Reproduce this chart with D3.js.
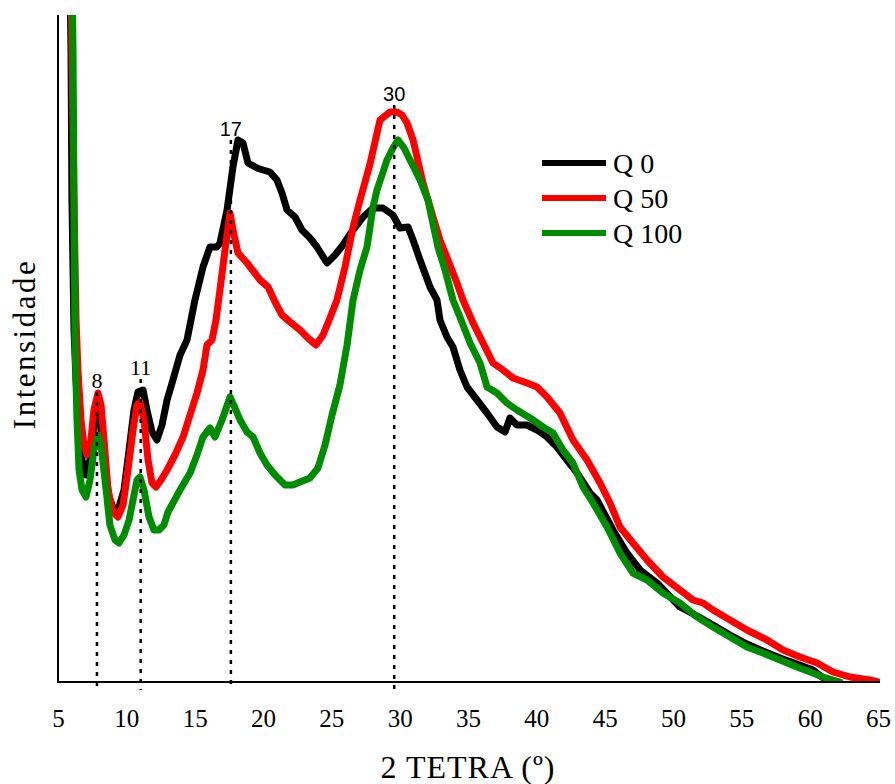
<!DOCTYPE html>
<html>
<head>
<meta charset="utf-8">
<script src="https://cdn.jsdelivr.net/npm/d3@7/dist/d3.min.js"></script>
<style>
  html, body { margin: 0; padding: 0; background: #fff; }
  svg { display: block; }
</style>
</head>
<body>
<svg id="chart" width="895" height="784"></svg>
<script>
// ---------- DATA ----------
const seriesNames = ["Q 0", "Q 50", "Q 100"];
const seriesColors = ["#000000", "#ff0000", "#008c00"];

// 2-theta (degrees) and intensity (arbitrary units) for Q 0
const q0Theta = [5.80,5.95,6.02,6.17,6.32,6.54,6.76,7.05,7.34,7.63,7.85,8.07,8.37,8.73,9.10,9.46,9.83,10.20,10.56,10.85,11.22,11.51,11.88,12.24,12.61,12.98,13.41,13.93,14.44,15.02,15.61,16.12,16.63,16.85,17.37,17.80,18.17,18.54,18.90,19.56,20.00,20.51,21.02,21.39,21.76,22.34,22.85,23.44,23.95,24.68,25.27,25.85,26.58,27.32,28.05,28.78,29.51,30.02,30.61,30.98,31.49,32.22,32.73,32.95,33.46,33.90,34.41,34.93,35.66,36.39,37.12,37.71,38.07,38.58,39.32,40.05,40.78,41.51,42.24,42.98,43.93,44.44,45.61,46.63,47.59,48.83,50.51,51.76,52.93,54.17,55.41,56.58,57.83,59.07,60.24,61.19];
const q0Int   = [782,632,482,352,302,252,222,207,222,257,277,262,222,185,172,175,192,232,272,290,292,272,250,242,257,282,302,327,342,382,415,435,435,439,472,515,542,539,519,514,512,510,502,489,472,465,452,444,435,419,427,437,452,465,474,474,467,454,455,442,422,395,382,362,345,335,312,295,282,269,255,250,264,257,257,252,245,235,222,209,189,182,152,129,112,99,75,66,57,47,38,31,24,18,12,2];

// Q 50
const q50Theta = [5.88,6.02,6.17,6.32,6.46,6.68,6.90,7.12,7.41,7.63,7.93,8.15,8.37,8.66,9.02,9.39,9.76,10.12,10.49,10.78,11.00,11.29,11.59,11.88,12.17,12.54,12.98,13.56,14.15,14.66,15.17,15.61,15.90,16.27,16.56,16.85,17.22,17.59,17.88,18.17,18.83,19.34,19.78,20.37,20.88,21.39,21.98,22.71,23.29,23.88,24.39,24.90,25.41,26.00,26.59,27.10,27.83,28.56,29.29,29.80,30.17,30.54,30.98,31.71,32.44,32.95,33.68,34.19,34.63,35.37,36.10,36.83,37.56,38.29,39.32,40.05,40.78,41.73,42.68,43.71,44.66,45.39,46.12,47.07,48.10,49.27,50.51,51.46,52.20,52.93,54.17,55.41,56.88,58.05,59.29,60.54,61.71,62.95,64.41,65.00];
const q50Int   = [782,632,482,362,312,262,237,227,242,272,289,277,242,192,170,165,177,212,252,277,280,262,222,199,195,202,212,227,245,267,289,312,337,342,362,392,432,469,447,429,419,410,402,395,380,367,360,352,344,337,347,364,382,415,455,482,518,562,570,570,567,559,542,499,465,442,417,399,382,359,339,319,312,304,299,295,285,269,242,222,199,179,155,139,122,105,92,82,79,72,62,52,42,32,25,19,10,5,2,0];

// Q 100
const q100Theta = [5.95,6.10,6.17,6.24,6.39,6.54,6.76,7.05,7.34,7.63,7.93,8.15,8.44,8.80,9.17,9.46,9.83,10.20,10.56,10.78,11.00,11.29,11.66,12.02,12.39,12.75,13.05,13.41,13.93,14.66,15.17,15.61,16.12,16.49,17.00,17.59,17.95,18.32,18.83,19.27,19.78,20.29,20.88,21.61,22.19,22.71,23.44,24.02,24.54,25.05,25.63,26.15,26.59,27.10,27.61,28.05,28.34,28.71,29.07,29.51,29.88,30.32,30.76,31.49,32.07,32.80,33.32,33.90,34.41,35.15,35.88,36.39,37.12,37.85,38.58,39.54,40.49,41.22,41.95,42.68,43.41,44.15,45.17,46.12,47.07,48.10,49.27,50.51,51.76,52.93,54.17,55.41,56.58,57.83,59.07,60.24,60.97,61.71,62.22];
const q100Int   = [782,632,482,342,262,212,192,185,202,232,247,237,202,157,142,139,147,162,187,202,205,192,165,152,152,157,170,179,192,209,227,245,254,245,262,285,274,262,250,245,229,217,207,197,197,200,204,214,237,267,297,337,382,412,435,475,492,507,522,534,542,534,522,502,482,435,412,382,365,339,319,295,289,279,272,264,255,249,232,219,195,179,155,129,109,102,89,79,65,55,45,35,29,22,15,9,5,2,0];

// Peak markers
const peakTheta  = [7.85, 11.05, 17.65, 29.6];
const peakLabels = ["8", "11", "17", "30"];
const peakTop    = [290, 303, 542, 577];

const xTicks = [5,10,15,20,25,30,35,40,45,50,55,60,65];
const xTitle = "2 TETRA (º)";
const yTitle = "Intensidade";

// ---------- LAYOUT ----------
const svg = d3.select("#chart");
const margin = { left: 58, right: 15, top: 15, bottom: 102 };
const W = 895, H = 784;
const x = d3.scaleLinear().domain([5, 65]).range([margin.left, 878]);
const y = d3.scaleLinear().domain([0, 667]).range([H - margin.bottom, margin.top]);

svg.append("defs").append("clipPath").attr("id", "plotclip")
  .append("rect")
  .attr("x", margin.left).attr("y", margin.top)
  .attr("width", 880 - margin.left).attr("height", (H - margin.bottom) - margin.top);

const series = [
  { name: seriesNames[0], color: seriesColors[0], t: q0Theta, v: q0Int },
  { name: seriesNames[1], color: seriesColors[1], t: q50Theta, v: q50Int },
  { name: seriesNames[2], color: seriesColors[2], t: q100Theta, v: q100Int }
];

const line = d3.line().x(d => x(d[0])).y(d => y(d[1]));

const g = svg.append("g").attr("clip-path", "url(#plotclip)");
series.forEach(s => {
  g.append("path")
    .datum(s.t.map((t, i) => [t, s.v[i]]))
    .attr("d", line)
    .attr("fill", "none")
    .attr("stroke", s.color)
    .attr("stroke-width", 7)
    .attr("stroke-linejoin", "round")
    .attr("stroke-linecap", "round");
});

// Axes
const serif = "'Liberation Serif', 'Times New Roman', serif";
const xAxis = d3.axisBottom(x).tickValues(xTicks).tickSize(0).tickPadding(27).tickFormat(d3.format("d"));
const ax = svg.append("g").attr("transform", `translate(0,${H - margin.bottom})`).call(xAxis);
ax.select(".domain").remove();
ax.selectAll("text").attr("font-family", serif).attr("font-size", 25).attr("fill", "#000");

svg.append("line")
  .attr("x1", margin.left).attr("x2", 880)
  .attr("y1", y(0)).attr("y2", y(0))
  .attr("stroke", "#000").attr("stroke-width", 2);
svg.append("line")
  .attr("x1", margin.left).attr("x2", margin.left)
  .attr("y1", margin.top).attr("y2", y(0) + 1)
  .attr("stroke", "#000").attr("stroke-width", 2);

// Peak dotted lines and labels
peakTheta.forEach((p, i) => {
  svg.append("line")
    .attr("x1", x(p)).attr("x2", x(p))
    .attr("y1", y(peakTop[i])).attr("y2", y(0) + 8)
    .attr("stroke", "#000").attr("stroke-width", 2.5)
    .attr("stroke-dasharray", "4,6");
  svg.append("text")
    .attr("x", x(p)).attr("y", y(peakTop[i]) - 4)
    .attr("text-anchor", "middle")
    .attr("font-family", i < 2 ? serif : "'Liberation Sans', Arial, sans-serif")
    .attr("font-size", i < 2 ? 22 : 20)
    .attr("fill", "#000")
    .text(peakLabels[i]);
});

// Axis titles
svg.append("text")
  .attr("x", 468).attr("y", 778)
  .attr("text-anchor", "middle")
  .attr("font-family", serif)
  .attr("font-size", 32)
  .attr("letter-spacing", 1)
  .text(xTitle);

svg.append("text")
  .attr("transform", "translate(35,344) rotate(-90)")
  .attr("text-anchor", "middle")
  .attr("font-family", serif)
  .attr("font-size", 31)
  .attr("letter-spacing", 2.5)
  .text(yTitle);

// Legend
const legend = svg.append("g");
series.forEach((s, i) => {
  const ly = 163 + i * 35;
  legend.append("line")
    .attr("x1", 542).attr("x2", 606)
    .attr("y1", ly).attr("y2", ly)
    .attr("stroke", s.color).attr("stroke-width", 6);
  legend.append("text")
    .attr("x", 613).attr("y", ly + 10)
    .attr("font-family", serif)
    .attr("font-size", 28)
    .text(s.name);
});
</script>
</body>
</html>
